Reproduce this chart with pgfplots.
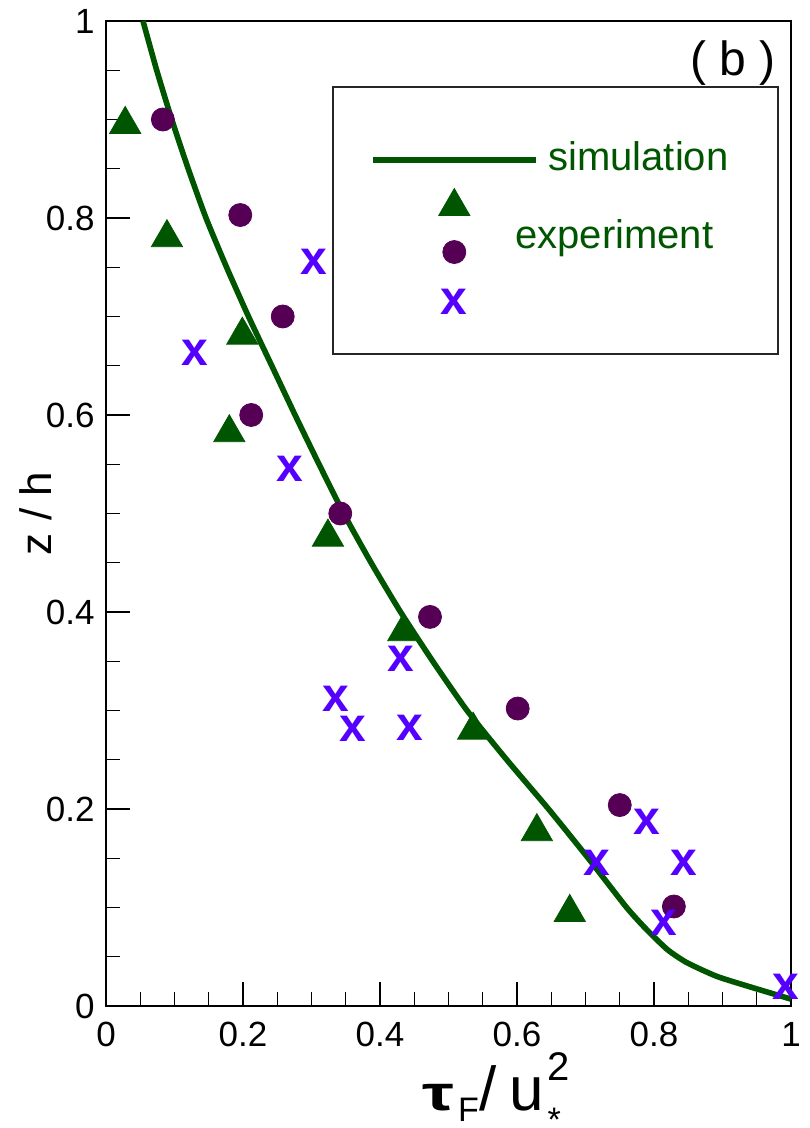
\documentclass[border=0pt]{standalone}
\usepackage{fontspec}
\setmainfont{Liberation Sans}
\usepackage{graphicx}
\usepackage{pgfplots}
\usepackage{pgfplotstable}
\pgfplotsset{compat=1.18}
\definecolor{simgreen}{RGB}{0,85,0}
\definecolor{circpurple}{RGB}{85,0,85}
\definecolor{xviolet}{RGB}{85,0,255}

\pgfplotsset{
  lineimg/.style={legend image code/.code={\path[draw=none, fill=none] (0pt,-8.5pt) rectangle (81.5pt,8.5pt);
      \draw[##1] (0pt,0pt) -- (81.5pt,0pt);}},
  markimg/.style={legend image code/.code={\path[draw=none, fill=none] (0pt,-12.5pt) rectangle (81.5pt,12.5pt);
      \draw[##1, mark repeat=2, mark phase=2] plot coordinates {(0pt,#1) (40.75pt,#1) (81.5pt,#1)};}},
}

\pgfplotstableread{
x y
0.054 1.000
0.074 0.950
0.096 0.900
0.120 0.850
0.146 0.800
0.176 0.750
0.208 0.700
0.242 0.650
0.276 0.600
0.311 0.550
0.347 0.500
0.387 0.450
0.430 0.400
0.477 0.350
0.527 0.300
0.585 0.250
0.646 0.200
0.704 0.150
0.760 0.100
0.790 0.077
0.820 0.057
0.848 0.044
0.892 0.030
0.947 0.018
1.000 0.007
}\simdata

\pgfplotstableread{
x y
0.028 0.895
0.089 0.780
0.199 0.681
0.180 0.582
0.324 0.476
0.434 0.380
0.536 0.280
0.629 0.177
0.677 0.095
}\tridata

\pgfplotstableread{
x y
0.083 0.900
0.196 0.803
0.258 0.700
0.212 0.600
0.342 0.500
0.473 0.395
0.601 0.302
0.750 0.204
0.829 0.101
}\circdata

\pgfplotstableread{
x y
0.304 0.755
0.129 0.663
0.269 0.545
0.431 0.352
0.336 0.312
0.360 0.281
0.444 0.282
0.790 0.187
0.716 0.145
0.843 0.145
0.814 0.084
0.993 0.019
}\xdata

\begin{document}
\begin{tikzpicture}
\begin{axis}[
  at={(0,0)}, anchor=south west,
  scale only axis, width=342.5pt, height=492.5pt,
  xmin=0, xmax=1, ymin=0, ymax=1,
  clip=false,
  xtick={0,0.2,0.4,0.6,0.8,1},
  ytick={0,0.2,0.4,0.6,0.8,1},
  minor tick num=3,
  tick align=inside, tick pos=left,
  major tick length=12pt, minor tick length=7pt,
  tick style={black, line width=0.6pt},
  axis line style={line width=0.8pt},
  /pgf/number format/assume math mode=true,
  ticklabel style={font=\fontsize{17.5}{20}\selectfont, inner sep=0pt},
  xticklabel style={yshift=-8pt},
  yticklabel style={xshift=-5.5pt},
  ylabel={z / h},
  ylabel style={at={(axis description cs:-0.1022,0.5)}, anchor=center, inner sep=0pt,
    font=\fontsize{22}{24}\selectfont},
  xlabel={\fontsize{31}{31}\selectfont\scalebox{1.15}[0.8]{\bfseries τ}\kern2pt\raisebox{-5.5pt}{\fontsize{17}{17}\selectfont F}\kern0.5pt/\kern6pt u\rlap{\kern2pt\raisebox{15pt}{\fontsize{20}{20}\selectfont 2}}\kern2pt\raisebox{-10.5pt}{\fontsize{17}{17}\selectfont *}},
  xlabel style={at={(axis description cs:0.4613,0)}, anchor=base west, yshift=-52pt, inner sep=0pt},
  legend style={at={(axis description cs:0.3854,0.8761)}, anchor=north west,
    draw=none, fill=none, inner sep=0pt, outer sep=0pt,
    row sep=0pt, column sep=0pt,
    nodes={inner sep=0pt, outer sep=0pt, text depth=0pt}},
  legend cell align=left,
]
\addplot[simgreen, line width=2.8pt, smooth, tension=0.35, lineimg]
  table[x=x,y=y]{\simdata};
\addlegendentry{\mbox{}}
\addplot[only marks, mark=triangle*, mark size=9pt, color=simgreen, fill=simgreen,
  markimg=-2.25pt]
  table[x=x,y=y]{\tridata};
\addlegendentry{\mbox{}}
\addplot[only marks, mark=*, mark size=5.75pt, color=circpurple, fill=circpurple,
  markimg=0pt]
  table[x=x,y=y]{\circdata};
\addlegendentry{\mbox{}}
\addplot[only marks, mark=text, text mark={x}, text mark as node=true,
  text mark style={font=\fontsize{24}{24}\selectfont\bfseries, text=xviolet, inner sep=0pt, anchor=center},
  markimg=0pt]
  table[x=x,y=y]{\xdata};
\addlegendentry{\mbox{}}

\draw[line width=0.7pt, black!85] (axis description cs:0.3314,0.9330) rectangle (axis description cs:0.9810,0.6619);
\node[anchor=base west, inner sep=0pt, text=simgreen, font=\fontsize{20}{22}\selectfont]
  at (axis description cs:0.6453,0.8487) {simulation};
\node[anchor=base west, inner sep=0pt, text=simgreen, font=\fontsize{20}{22}\selectfont]
  at (axis description cs:0.5971,0.7695) {experiment};
\node[inner sep=0pt, font=\fontsize{24}{26}\selectfont]
  at (axis description cs:0.9153,0.9574) {( b )};
\end{axis}
\pgfresetboundingbox
\path[use as bounding box] (-53pt,-61pt) rectangle (351.5pt,503pt);
\end{tikzpicture}
\end{document}
